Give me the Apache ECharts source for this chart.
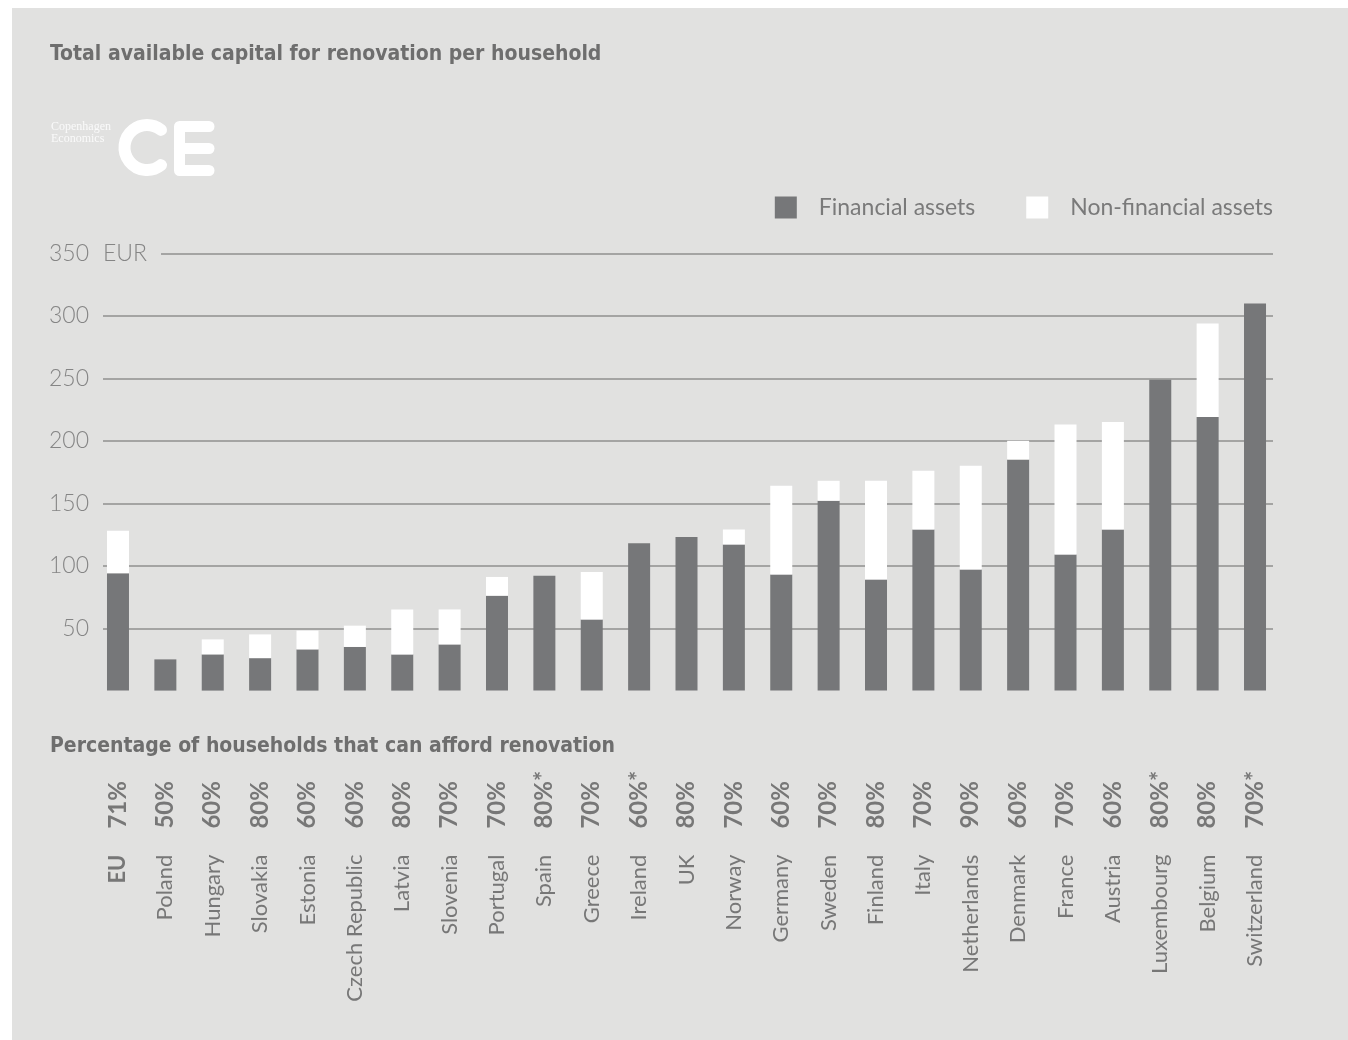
<!DOCTYPE html>
<html>
<head>
<meta charset="utf-8">
<title>Total available capital for renovation per household</title>
<script src="https://cdn.jsdelivr.net/npm/echarts@6/dist/echarts.min.js"></script>
<style>
  html, body { margin: 0; padding: 0; background: #ffffff; }
  #panel { position: absolute; left: 12px; top: 8px; right: 0; bottom: 0; background: #e1e1e0; }
  #chart { position: absolute; left: 0; top: 0; width: 1348px; height: 1040px; }
</style>
</head>
<body>
<div id="panel"></div>
<div id="chart"></div>
<script>
// Countries, ordered by total available capital (EU average first)
const countries = ['EU', 'Poland', 'Hungary', 'Slovakia', 'Estonia', 'Czech Republic', 'Latvia',
  'Slovenia', 'Portugal', 'Spain', 'Greece', 'Ireland', 'UK', 'Norway', 'Germany', 'Sweden',
  'Finland', 'Italy', 'Netherlands', 'Denmark', 'France', 'Austria', 'Luxembourg', 'Belgium',
  'Switzerland'];

// Share of households that can afford renovation
const affordShare = ['71%', '50%', '60%', '80%', '60%', '60%', '80%', '70%', '70%', '80%*', '70%',
  '60%*', '80%', '70%', '60%', '70%', '80%', '70%', '90%', '60%', '70%', '60%', '80%*', '80%', '70%*'];

// Available capital per household, EUR
const financialAssets = [94, 25, 29, 26, 33, 35, 29, 37, 76, 92, 57, 118, 123, 117, 93, 152, 89,
  129, 97, 185, 109, 129, 249, 219, 310];
const nonFinancialAssets = [34, 0, 12, 19, 15, 17, 36, 28, 15, 0, 38, 0, 0, 12, 71, 16, 79, 47,
  83, 15, 104, 86, 0, 75, 0];

// Value-axis ticks
const yMin = 0, yMax = 350, yStep = 50;

const BG = '#e1e1e0';
const DARK = '#767779';
const LABEL = '#777777';
const AXIS_TEXT = '#858585';
const HEAD_FONT = '"Liberation Sans Narrow", "DejaVu Sans Condensed", "Roboto", sans-serif';

const chart = echarts.init(document.getElementById('chart'), null, { renderer: 'canvas' });

const option = {
  animation: false,
  backgroundColor: 'transparent',
  title: [
    {
      text: 'Total available capital for renovation per household',
      left: 50, top: 44, padding: 0,
      textStyle: { fontFamily: HEAD_FONT, fontWeight: 'bold', fontSize: 21, color: '#6e6e6e' }
    },
    {
      text: 'Percentage of households that can afford renovation',
      left: 50, top: 736, padding: 0,
      textStyle: { fontFamily: HEAD_FONT, fontWeight: 'bold', fontSize: 21, color: '#6e6e6e' }
    }
  ],
  legend: {
    data: ['Financial assets', 'Non-financial assets'],
    right: 75, top: 196, padding: 0,
    icon: 'rect',
    itemWidth: 22, itemHeight: 22, itemGap: 51,
    selectedMode: false,
    textStyle: { fontFamily: 'Lato', fontSize: 23, color: '#7a7a7a', padding: [0, 0, 0, 17] }
  },
  grid: [
    // bars
    { left: 94.3, right: 69.3, top: 253.5, bottom: 349.4 },
    // horizontal rules and value labels (50 to 350)
    { left: 103, right: 75, top: 253.5, bottom: 411.7 }
  ],
  xAxis: [
    {
      gridIndex: 0, type: 'category', data: countries,
      axisLine: { show: false }, axisTick: { show: false },
      axisLabel: {
        interval: 0, rotate: 90, margin: 164,
        fontFamily: 'Lato', fontSize: 22, color: LABEL,
        formatter: v => (v === 'EU' ? '{b|EU}' : v),
        rich: { b: { fontFamily: 'Lato', fontWeight: 'bold', fontSize: 22, color: LABEL } }
      }
    },
    {
      gridIndex: 0, type: 'category', data: countries, position: 'bottom',
      axisLine: { show: false }, axisTick: { show: false },
      axisLabel: {
        interval: 0, rotate: 90, margin: 138, align: 'left',
        fontFamily: 'Lato', fontWeight: 'bold', fontSize: 24, color: LABEL,
        formatter: (v, i) => affordShare[i]
      }
    },
    { gridIndex: 1, type: 'value', show: false, min: 0, max: 1 }
  ],
  yAxis: [
    { gridIndex: 0, type: 'value', min: yMin, max: yMax, interval: yStep, show: false },
    {
      gridIndex: 1, type: 'value', min: yStep, max: yMax, interval: yStep,
      axisLine: { show: false }, axisTick: { show: false },
      axisLabel: { margin: 14, fontFamily: 'Lato', fontWeight: 300, fontSize: 23, color: AXIS_TEXT },
      splitLine: { lineStyle: { color: '#8f8f8f', width: 1.5 } }
    }
  ],
  series: [
    {
      name: 'Financial assets', type: 'bar', stack: 'capital',
      xAxisIndex: 0, yAxisIndex: 0, barWidth: 22,
      itemStyle: { color: DARK },
      data: financialAssets
    },
    {
      name: 'Non-financial assets', type: 'bar', stack: 'capital',
      xAxisIndex: 0, yAxisIndex: 0, barWidth: 22,
      itemStyle: { color: '#ffffff' },
      data: nonFinancialAssets
    }
  ],
  graphic: [
    // unit next to the top tick, masking the start of the rule
    {
      type: 'text', x: 103, y: 253.5, z: 100,
      style: {
        text: 'EUR', font: '300 23px Lato', fill: AXIS_TEXT, verticalAlign: 'middle',
        backgroundColor: BG, padding: [2, 14, 2, 0]
      }
    },
    // Copenhagen Economics logo
    {
      type: 'text', x: 51, y: 121, z: 100,
      style: {
        text: 'Copenhagen\nEconomics', font: '12px "Liberation Serif", "DejaVu Serif", serif',
        fill: '#fafafa', lineHeight: 12
      }
    },
    {
      type: 'arc', z: 100,
      shape: { cx: 147, cy: 147.5, r: 22.5, startAngle: 0.9, endAngle: 2 * Math.PI - 0.9, clockwise: true },
      style: { stroke: '#ffffff', lineWidth: 12, lineCap: 'round', fill: null }
    },
    {
      type: 'polyline', z: 100,
      shape: { points: [[209, 126.5], [179.5, 126.5], [179.5, 170.5], [209, 170.5]] },
      style: { stroke: '#ffffff', lineWidth: 11, lineCap: 'round', lineJoin: 'round', fill: null }
    },
    {
      type: 'line', z: 100,
      shape: { x1: 179.5, y1: 148.5, x2: 209, y2: 148.5 },
      style: { stroke: '#ffffff', lineWidth: 11, lineCap: 'round' }
    }
  ]
};

chart.setOption(option);
</script>
</body>
</html>
